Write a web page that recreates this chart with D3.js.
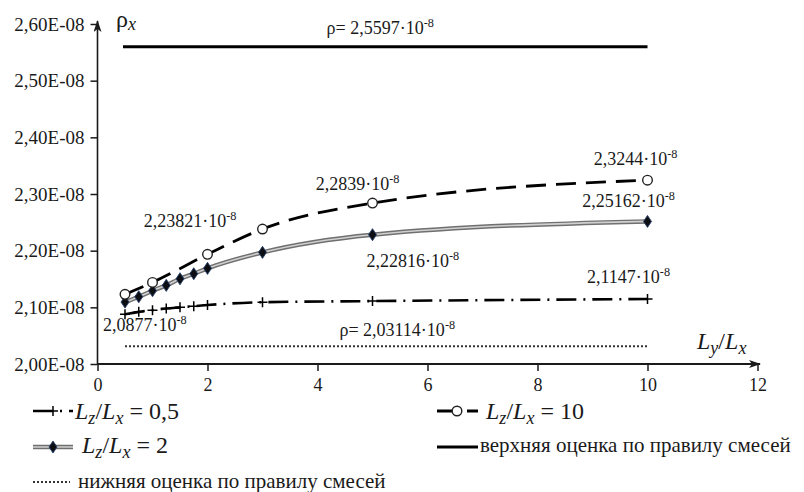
<!DOCTYPE html>
<html>
<head>
<meta charset="utf-8">
<script src="https://cdn.jsdelivr.net/npm/d3@7"></script>
</head>
<body style="margin:0; font-family: 'Times New Roman'">
<svg id="chart" width="804" height="492"></svg>
<script>
// values in units of 1e-8
const xTicks = [0, 2, 4, 6, 8, 10, 12];
const xTickLabels = ['0', '2', '4', '6', '8', '10', '12'];
const yTicks = [2.0, 2.1, 2.2, 2.3, 2.4, 2.5, 2.6];
const yTickLabels = ['2,00E-08', '2,10E-08', '2,20E-08', '2,30E-08', '2,40E-08', '2,50E-08', '2,60E-08'];

const lyDense = [0.5, 0.75, 1, 1.25, 1.5, 1.75, 2, 3, 5, 10];
const rhoLz05 = [2.0877, 2.092, 2.095, 2.098, 2.100, 2.102, 2.104, 2.109, 2.111, 2.1147];
const rhoLz2 = [2.1093, 2.1187, 2.1293, 2.1388, 2.1504, 2.1593, 2.1688, 2.197, 2.22816, 2.25162];
const lySparse = [0.5, 1, 2, 3, 5, 10];
const rhoLz10 = [2.1229, 2.144, 2.1935, 2.23821, 2.2839, 2.3244];

const boundRange = [0.5, 10];
const rhoUpper = 2.5597;
const rhoLower = 2.03114;

const svg = d3.select('#chart');
const ink = '#1a1a1a';
const face = 'Times New Roman';

const x = d3.scaleLinear().domain([0, 12]).range([97.5, 757.5]);
const y = d3.scaleLinear().domain([2.0, 2.6]).range([364, 24]);

// arrow heads
svg.append('defs').append('marker')
  .attr('id', 'arrow')
  .attr('viewBox', '0 0 12 8')
  .attr('refX', 11).attr('refY', 4)
  .attr('markerWidth', 12).attr('markerHeight', 8)
  .attr('markerUnits', 'userSpaceOnUse')
  .attr('orient', 'auto')
  .append('path')
  .attr('d', 'M0,0 L12,4 L0,8 L3,4 Z')
  .attr('fill', ink);

// axes
const yAxis = d3.axisLeft(y).tickValues(yTicks).tickSize(7).tickSizeOuter(0)
  .tickFormat((d, i) => yTickLabels[i]);
const gy = svg.append('g').attr('transform', `translate(${x(0)},0)`).call(yAxis);
gy.attr('font-family', null);
gy.select('.domain').remove();
gy.selectAll('line').attr('stroke', ink).attr('stroke-width', 1.5);
gy.selectAll('text').attr('font-size', 19).attr('fill', ink).attr('x', -13)
  .style('font-family', `'${face}'`);

const xAxis = d3.axisBottom(x).tickValues(xTicks).tickSize(7).tickSizeOuter(0)
  .tickFormat((d, i) => xTickLabels[i]);
const gx = svg.append('g').attr('transform', `translate(0,${y(2.0)})`).call(xAxis);
gx.attr('font-family', null);
gx.select('.domain').remove();
gx.selectAll('line').attr('stroke', ink).attr('stroke-width', 1.5);
gx.selectAll('text').attr('font-size', 18).attr('fill', ink).attr('y', 14)
  .style('font-family', `'${face}'`);

svg.append('line')
  .attr('x1', x(0)).attr('x2', x(0)).attr('y1', y(2.0)).attr('y2', 21)
  .attr('stroke', ink).attr('stroke-width', 1.6).attr('marker-end', 'url(#arrow)');
svg.append('line')
  .attr('x1', x(0)).attr('x2', 760).attr('y1', y(2.0)).attr('y2', y(2.0))
  .attr('stroke', ink).attr('stroke-width', 1.8).attr('marker-end', 'url(#arrow)');

// bounds
svg.append('line')
  .attr('x1', x(boundRange[0]) - 2).attr('x2', x(boundRange[1]))
  .attr('y1', y(rhoUpper)).attr('y2', y(rhoUpper))
  .attr('stroke', '#000').attr('stroke-width', 3);
svg.append('line')
  .attr('x1', x(boundRange[0])).attr('x2', x(boundRange[1]))
  .attr('y1', y(rhoLower)).attr('y2', y(rhoLower))
  .attr('stroke', '#333').attr('stroke-width', 2).attr('stroke-dasharray', '2,2');

// series
const line = d3.line().x(d => x(d[0])).y(d => y(d[1])).curve(d3.curveMonotoneX);
const s05 = lyDense.map((v, i) => [v, rhoLz05[i]]);
const s2 = lyDense.map((v, i) => [v, rhoLz2[i]]);
const s10 = lySparse.map((v, i) => [v, rhoLz10[i]]);

const dashDot = '20,7,2,7';
const longDash = '20,10';

svg.append('path').datum(s05).attr('d', line)
  .attr('fill', 'none').attr('stroke', '#000').attr('stroke-width', 2.6)
  .attr('stroke-dasharray', dashDot);

svg.append('path').datum(s2).attr('d', line)
  .attr('fill', 'none').attr('stroke', '#707070').attr('stroke-width', 4.5);
svg.append('path').datum(s2).attr('d', line)
  .attr('fill', 'none').attr('stroke', '#d0d0d0').attr('stroke-width', 1.6);

svg.append('path').datum(s10).attr('d', line)
  .attr('fill', 'none').attr('stroke', '#000').attr('stroke-width', 2.8)
  .attr('stroke-dasharray', longDash);

function plusPath(g, cx, cy) {
  g.append('path')
    .attr('d', `M${cx - 5},${cy}H${cx + 5}M${cx},${cy - 5}V${cy + 5}`)
    .attr('stroke', '#000').attr('stroke-width', 1.5).attr('fill', 'none');
}
function diamond(g, cx, cy) {
  g.append('path')
    .attr('d', d3.symbol().type(d3.symbolDiamond).size(42)())
    .attr('transform', `translate(${cx},${cy}) scale(1.15,1)`)
    .attr('fill', '#0d0d14').attr('stroke', '#24406a').attr('stroke-width', 0.8);
}
function circle(g, cx, cy) {
  g.append('circle').attr('cx', cx).attr('cy', cy).attr('r', 4.8)
    .attr('fill', '#fff').attr('stroke', '#222').attr('stroke-width', 1.4);
}

const marks = svg.append('g');
s05.forEach(d => plusPath(marks, x(d[0]), y(d[1])));
s2.forEach(d => diamond(marks, x(d[0]), y(d[1])));
s10.forEach(d => circle(marks, x(d[0]), y(d[1])));

function addText(g, px, py, size) {
  return g.append('text').attr('x', px).attr('y', py)
    .attr('font-size', size).attr('fill', ink)
    .style('font-family', `'${face}'`);
}

// value labels: mantissa and exponent
function sciLabel(cx, cy, anchor, text, exp) {
  const size = 18;
  const t = addText(svg, cx, cy, size).attr('text-anchor', anchor);
  t.append('tspan').text(text);
  t.append('tspan').attr('dy', -7).attr('font-size', size * 0.68).text(exp);
}

const fmt = v => String(v).replace('.', ',');
sciLabel(x(0.5) - 22, y(rhoLz05[0]) + 17, 'start', fmt(rhoLz05[0]) + '·10', '-8');
sciLabel(x(3) - 26, y(rhoLz10[3]) - 2, 'end', fmt(rhoLz10[3]) + '·10', '-8');
sciLabel(x(5) - 15, y(rhoLz10[4]) - 13, 'middle', fmt(rhoLz10[4]) + '·10', '-8');
sciLabel(x(10) - 12, y(rhoLz10[5]) - 15, 'middle', fmt(rhoLz10[5]) + '·10', '-8');
sciLabel(x(10) - 19, y(rhoLz2[9]) - 14, 'middle', fmt(rhoLz2[9]) + '·10', '-8');
sciLabel(x(5) - 6, y(rhoLz2[8]) + 32, 'start', fmt(rhoLz2[8]) + '·10', '-8');
sciLabel(x(10) - 19, y(rhoLz05[9]) - 16, 'middle', fmt(rhoLz05[9]) + '·10', '-8');
sciLabel(x(5.25) - 6, y(rhoUpper) - 13, 'middle', 'ρ= ' + fmt(rhoUpper) + '·10', '-8');
sciLabel(x(5.25) + 11, y(rhoLower) - 10, 'middle', 'ρ= ' + fmt(rhoLower) + '·10', '-8');

// axis titles
const rhoT = addText(svg, 116, 27, 24);
rhoT.append('tspan').text('ρ');
rhoT.append('tspan').attr('font-style', 'italic').attr('font-size', 18).attr('dy', 3).text('x');

function ratioText(g, px, py, sub1, sub2, tail, size) {
  const t = addText(g, px, py, size);
  t.append('tspan').attr('font-style', 'italic').text('L');
  t.append('tspan').attr('font-style', 'italic').attr('font-size', size * 0.75).attr('dy', size * 0.2).text(sub1);
  t.append('tspan').attr('dy', -size * 0.2).text('/');
  t.append('tspan').attr('font-style', 'italic').text('L');
  t.append('tspan').attr('font-style', 'italic').attr('font-size', size * 0.75).attr('dy', size * 0.2).text(sub2);
  if (tail) t.append('tspan').attr('dy', -size * 0.2).text(tail);
  return t;
}
ratioText(svg, 697, 349, 'y', 'x', null, 24);

// legend
const lg = svg.append('g');
lg.append('line').attr('x1', 33).attr('x2', 73).attr('y1', 411).attr('y2', 411)
  .attr('stroke', '#000').attr('stroke-width', 2.6).attr('stroke-dasharray', dashDot);
plusPath(lg, 53, 411);
ratioText(lg, 75, 419, 'z', 'x', ' = 0,5', 24);

lg.append('line').attr('x1', 437).attr('x2', 478).attr('y1', 411).attr('y2', 411)
  .attr('stroke', '#000').attr('stroke-width', 2.8).attr('stroke-dasharray', longDash);
circle(lg, 457, 411);
ratioText(lg, 486, 419, 'z', 'x', ' = 10', 24);

lg.append('line').attr('x1', 33).attr('x2', 73).attr('y1', 447).attr('y2', 447)
  .attr('stroke', '#707070').attr('stroke-width', 4.5);
lg.append('line').attr('x1', 33).attr('x2', 73).attr('y1', 447).attr('y2', 447)
  .attr('stroke', '#d0d0d0').attr('stroke-width', 1.6);
diamond(lg, 53, 447);
ratioText(lg, 82, 453, 'z', 'x', ' = 2', 24);

lg.append('line').attr('x1', 437).attr('x2', 478).attr('y1', 447).attr('y2', 447)
  .attr('stroke', '#000').attr('stroke-width', 3);
addText(lg, 480, 452, 21).text('верхняя оценка по правилу смесей');

lg.append('line').attr('x1', 33).attr('x2', 70).attr('y1', 482).attr('y2', 482)
  .attr('stroke', '#333').attr('stroke-width', 2).attr('stroke-dasharray', '2,2');
addText(lg, 78, 488, 21).text('нижняя оценка по правилу смесей');
</script>
</body>
</html>
